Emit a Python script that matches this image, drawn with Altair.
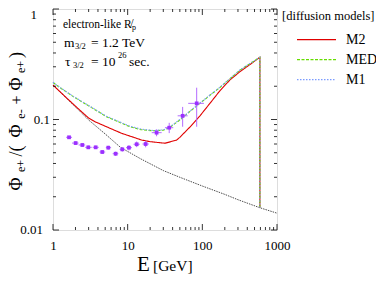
import altair as alt
import pandas as pd

FONT = "Liberation Serif"

# ---------------- data ----------------
E_M2 = [1, 1.5, 2, 3, 3.65, 5, 8.3, 12, 15.4, 20, 31.6, 45, 50, 70, 93, 120, 172, 234, 319, 450, 590, 590]
y_M2 = [0.205, 0.158, 0.132, 0.103, 0.0955, 0.087, 0.075, 0.069, 0.0652, 0.063, 0.061, 0.065, 0.069, 0.087, 0.108, 0.134, 0.182, 0.228, 0.271, 0.32, 0.366, 0.0159]

E_MED = [1, 1.3, 1.87, 3, 5.2, 10.7, 15, 22, 30, 36, 50, 70, 93, 120, 172, 230, 319, 450, 590, 590]
y_MED = [0.216, 0.19, 0.161, 0.133, 0.106, 0.086, 0.081, 0.079, 0.080, 0.084, 0.099, 0.12, 0.14, 0.161, 0.195, 0.231, 0.28, 0.325, 0.366, 0.0159]

E_M1 = [1, 1.3, 1.87, 3, 5.2, 10.7, 15, 22, 30, 36, 50, 70, 93, 120, 172, 230, 319, 450, 590, 590]
y_M1 = [0.217, 0.191, 0.162, 0.134, 0.107, 0.087, 0.082, 0.0795, 0.0805, 0.085, 0.100, 0.121, 0.141, 0.162, 0.196, 0.232, 0.281, 0.326, 0.366, 0.0159]

E_bg = [1, 1.5, 2, 3, 5, 8, 15, 30, 50, 100, 200, 300, 590, 1000]
y_bg = [0.205, 0.157, 0.13, 0.099, 0.074, 0.056, 0.044, 0.0345, 0.030, 0.025, 0.021, 0.0188, 0.0159, 0.0142]

E_data = [1.64, 2.01, 2.47, 2.97, 3.73, 4.57, 5.5, 6.9, 8.47, 10.4, 13.2, 17.4, 24.4, 36, 54.5, 84]
y_data = [0.069, 0.0612, 0.0588, 0.056, 0.056, 0.0508, 0.0556, 0.049, 0.0537, 0.0556, 0.0597, 0.060, 0.076, 0.0843, 0.108, 0.140]
E_lo = [1.5, 1.8, 2.2, 2.7, 3.4, 4.2, 5.1, 6.3, 7.8, 9.5, 12, 15.8, 21, 31.6, 46.7, 64.7]
E_hi = [1.8, 2.2, 2.7, 3.3, 4.1, 5.0, 6.0, 7.5, 9.2, 11.4, 14.5, 19.2, 28.5, 40.8, 63.6, 105]
y_err = [0.002, 0.002, 0.002, 0.002, 0.002, 0.002, 0.0022, 0.0022, 0.0025, 0.003, 0.0035, 0.004, 0.0055, 0.009, 0.022, 0.054]

series = ["M2", "MED", "M1"]
colors = {"M2": "#e00000", "MED": "#66dd00", "M1": "#7b9bff"}
dashes = {"M2": [1, 0], "MED": [3, 1.5], "M1": [1.5, 1.5]}

x_major = [1, 10, 100, 1000]
x_minor = [m * d for d in (1, 10, 100) for m in range(2, 10)]
y_major = [0.01, 0.1, 1]
y_labels = ["0.01", "0.1", "1"]
y_minor = [m * d for d in (0.01, 0.1) for m in range(2, 10)]

W, H = 224, 221

xs = alt.Scale(type="log", domain=[1, 1000], nice=False)
ys = alt.Scale(type="log", domain=[0.01, 1], nice=False)

x_axis = alt.Axis(values=x_major, format="~g", title=None, ticks=False, domain=False,
                  grid=False, labelPadding=9, labelFont=FONT, labelFontSize=13,
                  labelColor="black", labelFlush=False)
y_axis = None

layers = []

# background (black dotted)
bg = pd.DataFrame({"E": E_bg, "y": y_bg, "i": range(len(E_bg))})
layers.append(
    alt.Chart(bg).mark_line(color="#222222", strokeWidth=0.8, strokeDash=[1.5, 1])
    .encode(x=alt.X("E:Q", scale=xs, axis=x_axis), y=alt.Y("y:Q", scale=ys, axis=y_axis),
            order="i:Q")
)

model = {"M2": (E_M2, y_M2), "MED": (E_MED, y_MED), "M1": (E_M1, y_M1)}
for s in series:
    e, yv = model[s]
    df = pd.DataFrame({"E": e, "y": yv, "i": range(len(e))})
    layers.append(
        alt.Chart(df).mark_line(color=colors[s], strokeWidth=1.1, strokeDash=dashes[s])
        .encode(x=alt.X("E:Q", scale=xs), y=alt.Y("y:Q", scale=ys), order="i:Q")
    )

# data points with error bars
pts = pd.DataFrame({"E": E_data, "y": y_data, "Elo": E_lo, "Ehi": E_hi,
                    "ylo": [a - b for a, b in zip(y_data, y_err)],
                    "yhi": [a + b for a, b in zip(y_data, y_err)]})
pc = "#9b30ff"
ec = "#b36bff"
layers.append(alt.Chart(pts).mark_rule(color=ec, strokeWidth=1)
              .encode(x=alt.X("Elo:Q", scale=xs), x2="Ehi:Q", y=alt.Y("y:Q", scale=ys)))
layers.append(alt.Chart(pts).mark_rule(color=ec, strokeWidth=1)
              .encode(x=alt.X("E:Q", scale=xs), y=alt.Y("ylo:Q", scale=ys), y2="yhi:Q"))
layers.append(alt.Chart(pts).mark_square(color=pc, size=14, opacity=1)
              .encode(x=alt.X("E:Q", scale=xs), y=alt.Y("y:Q", scale=ys)))

# inward tick marks on all four sides
def xticks(vals, ln):
    d = pd.DataFrame({"v": vals})
    b = alt.Chart(d).mark_rule(color="black", strokeWidth=0.8).encode(
        x=alt.X("v:Q", scale=xs), y=alt.value(H), y2=alt.value(H - ln))
    t = alt.Chart(d).mark_rule(color="black", strokeWidth=0.8).encode(
        x=alt.X("v:Q", scale=xs), y=alt.value(0), y2=alt.value(ln))
    return [b, t]

def yticks(vals, ln):
    d = pd.DataFrame({"v": vals})
    l = alt.Chart(d).mark_rule(color="black", strokeWidth=0.8).encode(
        y=alt.Y("v:Q", scale=ys), x=alt.value(0), x2=alt.value(ln))
    r = alt.Chart(d).mark_rule(color="black", strokeWidth=0.8).encode(
        y=alt.Y("v:Q", scale=ys), x=alt.value(W), x2=alt.value(W - ln))
    return [l, r]

layers += xticks(x_major, 6) + xticks(x_minor, 3) + yticks(y_major, 6) + yticks(y_minor, 3)

# y tick labels (placed individually, as in the reference)
ylab_x = [-10, -3, -16]
ylab_dy = [0, 0, 6]
for v, t, xx, dy in zip(y_major, y_labels, ylab_x, ylab_dy):
    layers.append(
        alt.Chart(pd.DataFrame({"v": [v], "t": [t]})).mark_text(
            align="right", baseline="middle", font=FONT, fontSize=13, color="black", dy=dy
        ).encode(x=alt.value(xx), y=alt.Y("v:Q", scale=ys), text="t:N")
    )

def label(txt, x, y, size, align="left", angle=0, baseline="middle"):
    return alt.Chart(pd.DataFrame({"t": [txt]})).mark_text(
        align=align, baseline=baseline, font=FONT, fontSize=size, color="black", angle=angle
    ).encode(x=alt.value(x), y=alt.value(y), text="t:N")

# annotations
layers += [
    label("electron-like R\u0338", 10, 16, 11.5),
    label("p", 79, 18.5, 8),
    label("m", 11, 34, 13.5),
    label("3/2", 22, 37, 8.5),
    label("= 1.2 TeV", 38, 34, 13.5),
    label("\u03c4", 12, 53, 13.5),
    label("3/2", 20, 56, 8.5),
    label("= 10", 38, 53, 13.5),
    label("26", 65, 46, 8.5),
    label("sec.", 76, 53, 13.5),
]

# manual legend
layers.append(label("[diffusion models]", 229, 7, 12.5))
for k, s in enumerate(series):
    yy = 30.7 + k * 20
    layers.append(
        alt.Chart(pd.DataFrame({"s": [s]})).mark_rule(color=colors[s], strokeWidth=1.2,
                                                      strokeDash=dashes[s])
        .encode(x=alt.value(244), x2=alt.value(283), y=alt.value(yy))
    )
    layers.append(label(s, 293, yy, 14))

# x-axis title
layers += [
    label("E", 90.5, 262, 21, align="center", baseline="alphabetic"),
    label("[GeV]", 100, 262, 15.5, baseline="alphabetic"),
]

# y-axis title, built from rotated pieces: Phi_{e+}/(Phi_{e-} + Phi_{e+})
ytitle = [("\u03a6", 175, 18, -36), ("e+", 157, 12, -32), ("/(", 142, 18, -36),
          ("\u03a6", 122, 18, -36), ("e-", 105, 12, -32), ("+", 91, 16, -36),
          ("\u03a6", 75, 18, -36), ("e+", 58, 12, -32), (")", 46, 18, -36)]
for txt, yy, sz, xx in ytitle:
    layers.append(label(txt, xx, yy, sz, align="center", angle=270))

chart = alt.layer(*layers).properties(
    width=W, height=H,
    autosize=alt.AutoSizeParams(type="none"),
    padding={"left": 45, "top": 1, "right": 99, "bottom": 45},
).configure_view(stroke="black", strokeWidth=1.2).configure(background="white")

chart.save("out.html", embed_options={"renderer": "svg", "actions": False})
